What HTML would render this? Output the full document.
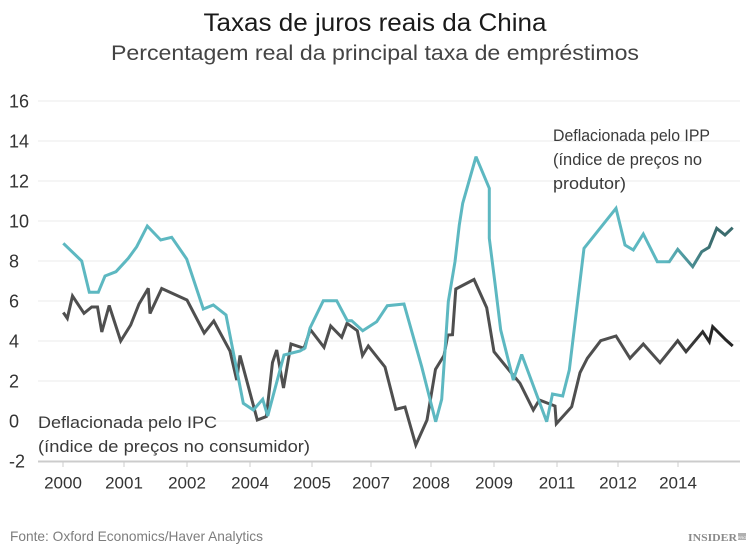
<!DOCTYPE html>
<html>
<head>
<meta charset="utf-8">
<style>
  html,body{margin:0;padding:0;background:#fff;}
  svg{display:block;}
  text{font-family:"Liberation Sans",sans-serif;}
</style>
</head>
<body>
<svg width="750" height="553" viewBox="0 0 750 553" xmlns="http://www.w3.org/2000/svg">
  <defs>
    <linearGradient id="gT" gradientUnits="userSpaceOnUse" x1="665" y1="0" x2="712" y2="0">
      <stop offset="0" stop-color="#5db8c1"/>
      <stop offset="1" stop-color="#3b6c6e"/>
    </linearGradient>
    <linearGradient id="gG" gradientUnits="userSpaceOnUse" x1="665" y1="0" x2="712" y2="0">
      <stop offset="0" stop-color="#4f4f4f"/>
      <stop offset="1" stop-color="#262626"/>
    </linearGradient>
  </defs>
  <rect width="750" height="553" fill="#fff"/>

  <!-- Title -->
  <text x="375" y="31" text-anchor="middle" font-size="25" fill="#1a1a1a" textLength="343" lengthAdjust="spacingAndGlyphs">Taxas de juros reais da China</text>
  <text x="375" y="60" text-anchor="middle" font-size="21" fill="#444" textLength="528" lengthAdjust="spacingAndGlyphs">Percentagem real da principal taxa de empréstimos</text>

  <!-- Gridlines -->
  <g stroke="#ebebeb" stroke-width="1">
    <line x1="38" y1="101" x2="740" y2="101"/>
    <line x1="38" y1="141" x2="740" y2="141"/>
    <line x1="38" y1="181" x2="740" y2="181"/>
    <line x1="38" y1="221" x2="740" y2="221"/>
    <line x1="38" y1="261" x2="740" y2="261"/>
    <line x1="38" y1="301" x2="740" y2="301"/>
    <line x1="38" y1="341" x2="740" y2="341"/>
    <line x1="38" y1="381" x2="740" y2="381"/>
    <line x1="38" y1="421" x2="740" y2="421"/>
  </g>
  <line x1="38" y1="461.5" x2="740" y2="461.5" stroke="#cccccc" stroke-width="2"/>
  <g stroke="#cccccc" stroke-width="1">
    <line x1="63" y1="462" x2="63" y2="467"/>
    <line x1="124" y1="462" x2="124" y2="467"/>
    <line x1="187" y1="462" x2="187" y2="467"/>
    <line x1="250" y1="462" x2="250" y2="467"/>
    <line x1="312" y1="462" x2="312" y2="467"/>
    <line x1="371" y1="462" x2="371" y2="467"/>
    <line x1="431" y1="462" x2="431" y2="467"/>
    <line x1="494" y1="462" x2="494" y2="467"/>
    <line x1="557" y1="462" x2="557" y2="467"/>
    <line x1="618" y1="462" x2="618" y2="467"/>
    <line x1="678" y1="462" x2="678" y2="467"/>
  </g>

  <!-- Y labels -->
  <g font-size="18" fill="#333">
    <text x="9" y="107.5">16</text>
    <text x="9" y="147.5">14</text>
    <text x="9" y="187.5">12</text>
    <text x="9" y="227.5">10</text>
    <text x="9" y="267.5">8</text>
    <text x="9" y="307.5">6</text>
    <text x="9" y="347.5">4</text>
    <text x="9" y="387.5">2</text>
    <text x="9" y="427.5">0</text>
    <text x="9" y="467.5">-2</text>
  </g>

  <!-- X labels -->
  <g font-size="17" fill="#333" text-anchor="middle">
    <text x="63" y="488.5">2000</text>
    <text x="124" y="488.5">2001</text>
    <text x="187" y="488.5">2002</text>
    <text x="250" y="488.5">2004</text>
    <text x="312" y="488.5">2005</text>
    <text x="371" y="488.5">2007</text>
    <text x="431" y="488.5">2008</text>
    <text x="494" y="488.5">2009</text>
    <text x="557" y="488.5">2011</text>
    <text x="618" y="488.5">2012</text>
    <text x="678" y="488.5">2014</text>
  </g>

  <!-- IPC (gray) series -->
  <polyline fill="none" stroke="url(#gG)" stroke-width="3" stroke-linejoin="miter" stroke-miterlimit="3"
    points="63.3,312.5 67.3,318.3 72.5,296 84,313.3 91.7,307 97.5,307 101.8,332 109.2,305.5 120.7,341 130.7,325 139,304 148.3,288.3 150,313.5 161.7,288.5 187,300 204.2,333 213.8,321 230,351 236.7,380 240,355.5 257.3,420 266.3,416.5 272.5,362.5 276.7,350 283.5,388 291,344 304,348.3 310.3,329.5 324,347.3 330.7,326 341.7,337.3 347,323.3 357.3,330.7 362.5,355.5 368.3,346 385,367 395.8,409.3 405,407 415.8,445 427,420 435.5,369.3 444,355.5 447.8,335 452.5,334.7 455.8,289 474,279.5 486.7,307.7 494,351.7 513,375 520,383.3 533.3,410 539.3,400 555,406 556.3,423.8 571.7,406.7 580,372.7 587.3,358.3 600.7,340.7 616,336 630,358.3 643.3,344 660,362.7 677.7,340.7 686,351.7 702.7,331.7 709.3,341.7 712.7,326.7 726,340 732.7,346"/>

  <!-- IPP (teal) series -->
  <polyline fill="none" stroke="url(#gT)" stroke-width="3" stroke-linejoin="miter" stroke-miterlimit="3"
    points="63.3,243.3 81.7,261 89.3,292.3 98.3,292.3 105,276 116,271.7 128.3,258.3 136.7,246.7 147.3,226 160.7,240 171.7,237.3 186.7,259 203.3,309 213.3,305 226,315 243.3,403.3 253.3,410 262.7,399.3 267.7,416 284,355 300,351 305,348 310,328 323.3,300.7 336.7,300.7 347.3,320.7 351.7,320.7 362.7,330.7 376.7,321.7 387.3,305.7 404,304 421.7,366.7 435.7,421.7 441.7,399.3 448.3,301.7 455,261.7 459.3,225 462.7,203.3 476,156.7 489.3,188.3 489.3,238.3 495,283.3 500.7,330 513.3,380 521.7,354.5 546.7,421.7 552.5,394 562.7,396 569.3,370 584,248.3 616,208.3 625,245 633.3,250 643.3,234 657.3,261.7 669.3,261.7 677.7,249.3 692.7,266.7 701.7,251.7 709,247.3 716.7,228.3 725,235 732.7,227.7"/>

  <!-- Annotations -->
  <g font-size="17" fill="#3a3a3a">
    <text x="553" y="141" textLength="157" lengthAdjust="spacingAndGlyphs">Deflacionada pelo IPP</text>
    <text x="553" y="165" textLength="149" lengthAdjust="spacingAndGlyphs">(índice de preços no</text>
    <text x="553" y="189" textLength="73" lengthAdjust="spacingAndGlyphs">produtor)</text>
    <text x="38" y="428" textLength="179" lengthAdjust="spacingAndGlyphs">Deflacionada pelo IPC</text>
    <text x="38" y="452" textLength="272" lengthAdjust="spacingAndGlyphs">(índice de preços no consumidor)</text>
  </g>

  <!-- Footer -->
  <text x="10" y="541" font-size="14" fill="#7d7d7d" textLength="253" lengthAdjust="spacingAndGlyphs">Fonte: Oxford Economics/Haver Analytics</text>
  <text x="688" y="541" font-size="10" font-weight="bold" fill="#8a8a8a" style="font-family:'Liberation Serif',serif" textLength="49" lengthAdjust="spacingAndGlyphs">INSIDER</text>
  <rect x="738" y="533" width="8" height="7" fill="#b0b0b0"/>
  <text x="742" y="539" font-size="4" fill="#fff" text-anchor="middle">PRO</text>
</svg>
</body>
</html>
